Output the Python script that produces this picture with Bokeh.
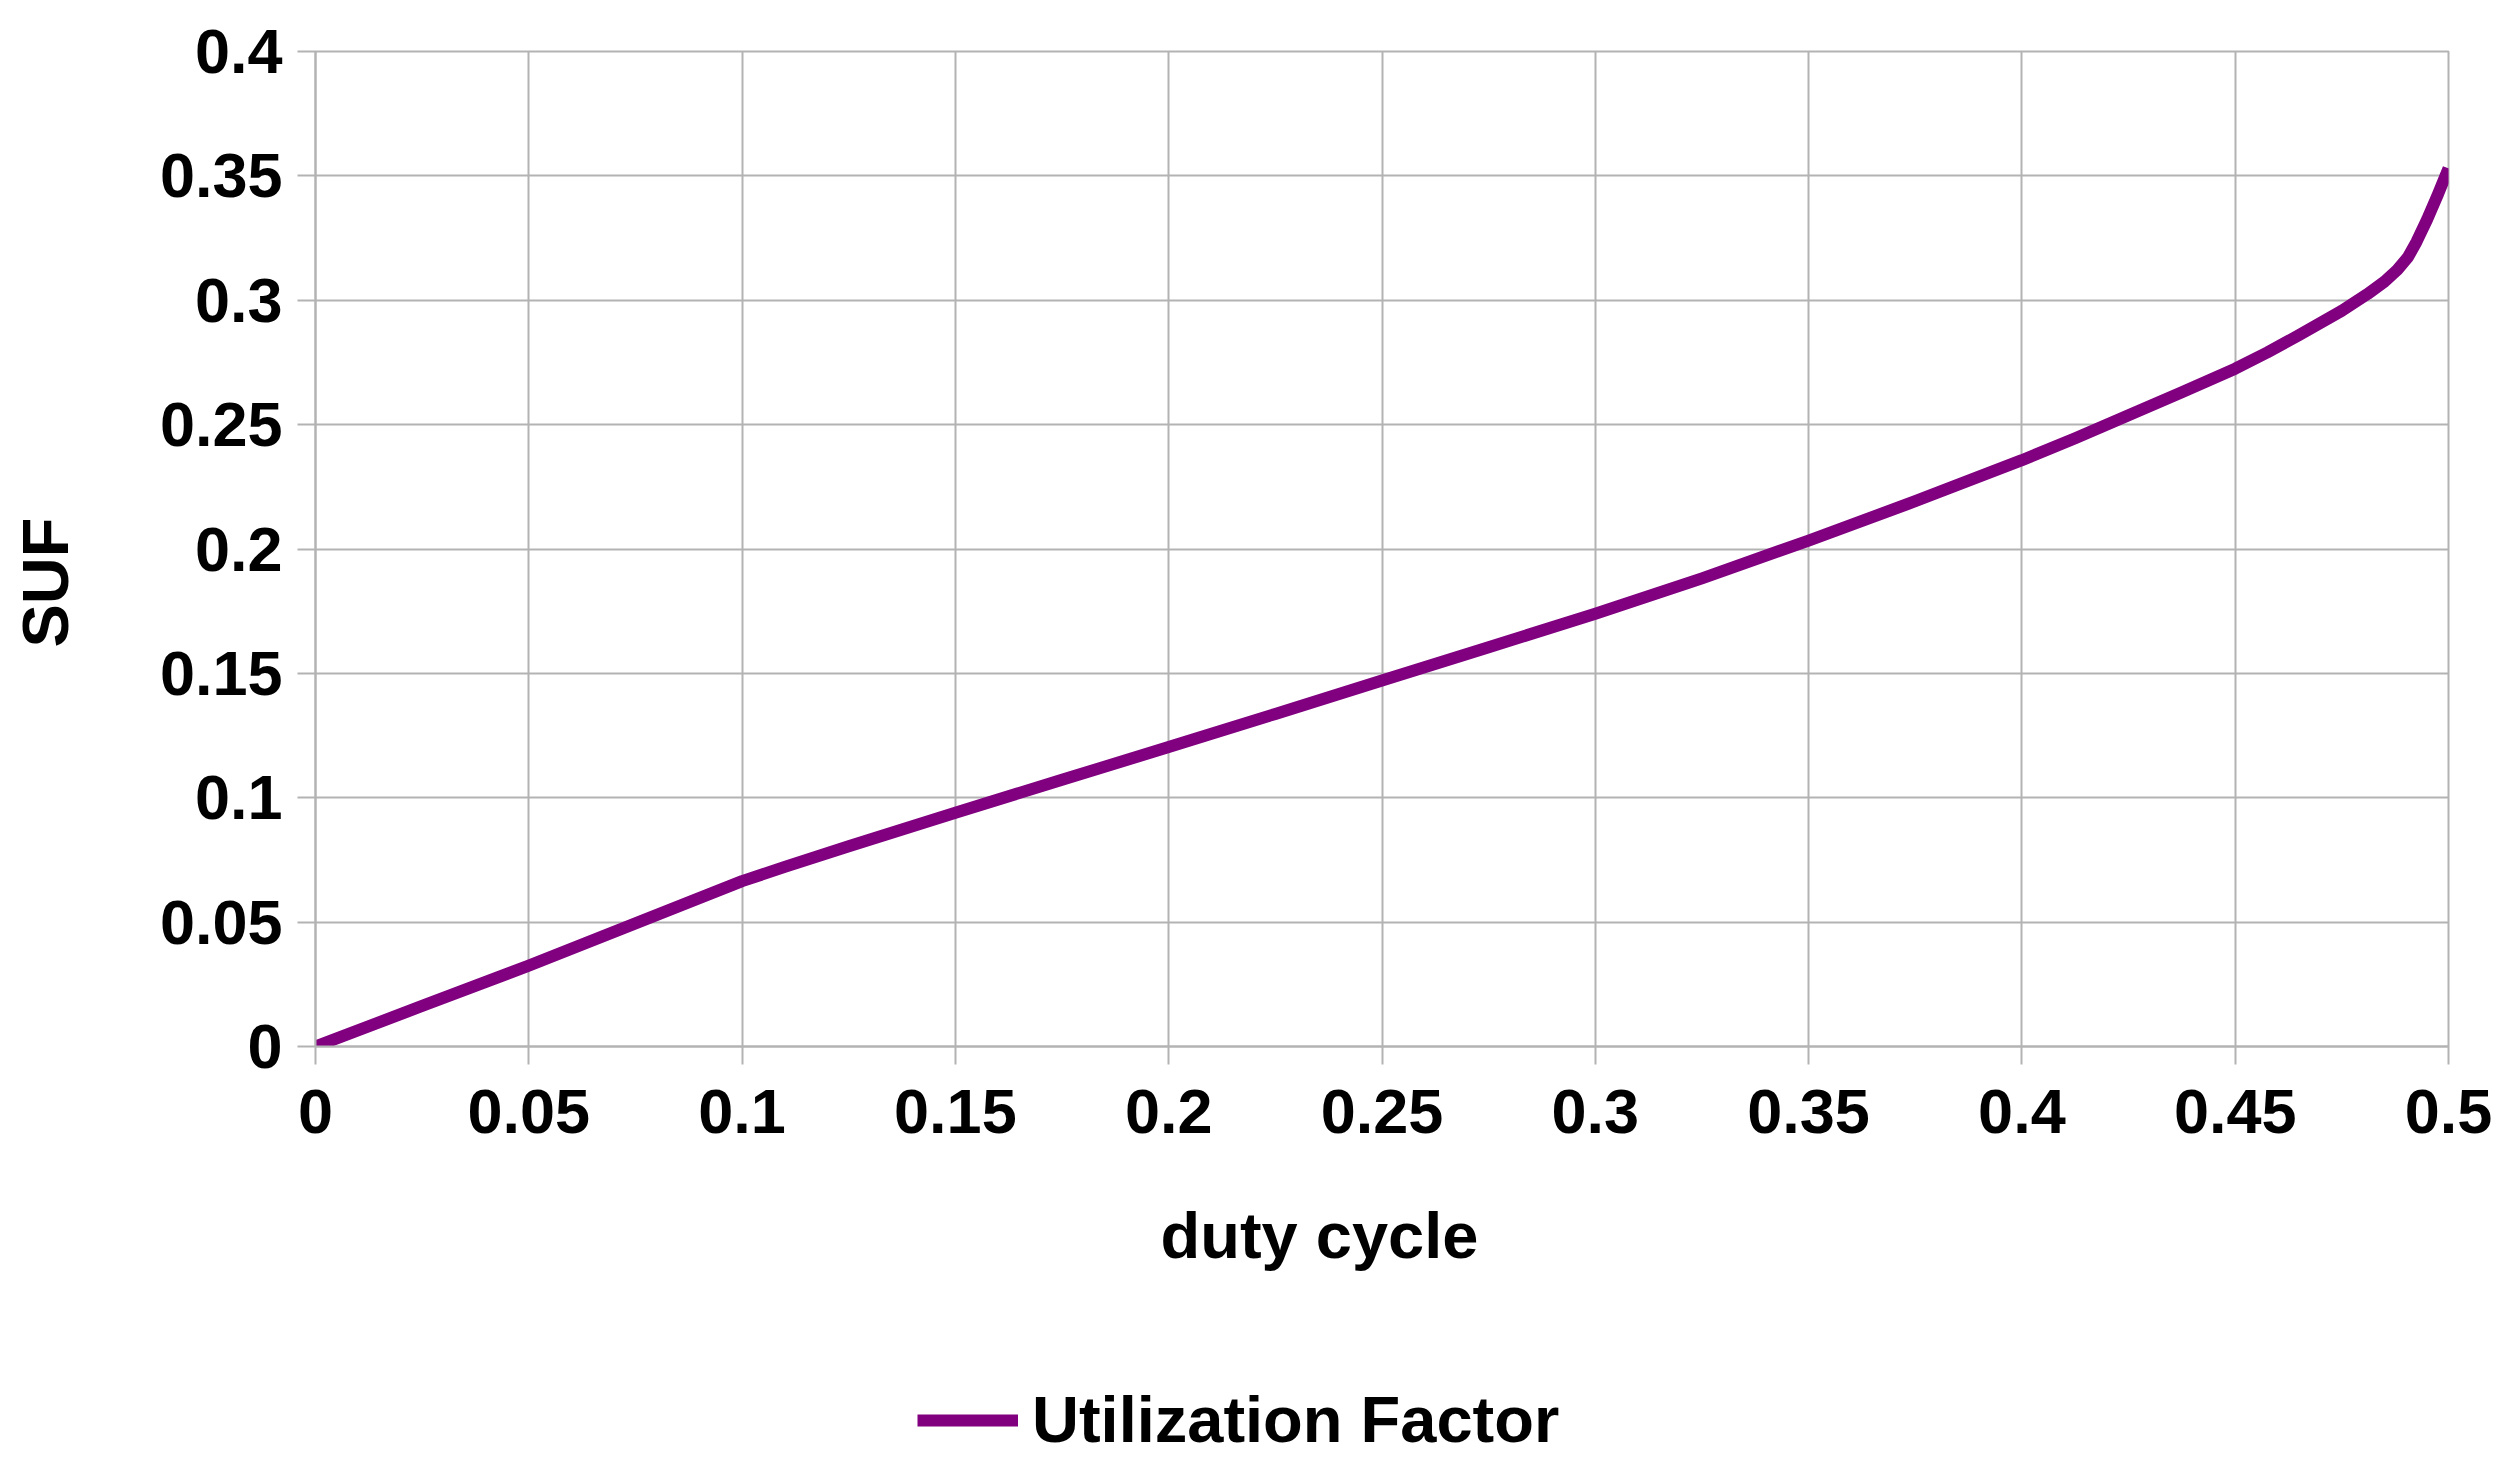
from bokeh.plotting import figure
from bokeh.layouts import column, row
from bokeh.models import Range1d, FixedTicker, Legend, LegendItem, Title, Label
from bokeh.embed import file_html
from bokeh.resources import INLINE

# ---- data ----
duty = [0.0, 0.025, 0.05, 0.075, 0.1, 0.11, 0.125, 0.15, 0.175, 0.2, 0.225, 0.25,
        0.275, 0.3, 0.325, 0.35, 0.375, 0.4, 0.4125, 0.425, 0.4375, 0.45, 0.4575,
        0.465, 0.475, 0.481, 0.485, 0.488, 0.4905, 0.4925, 0.495, 0.4975, 0.5]
suf = [0.0, 0.0163, 0.0325, 0.0495, 0.0665, 0.0722, 0.0805, 0.0940, 0.1072, 0.1204,
       0.1337, 0.1471, 0.1605, 0.1740, 0.1882, 0.2034, 0.2192, 0.2357, 0.2445,
       0.2538, 0.2630, 0.2725, 0.2790, 0.2860, 0.2958, 0.3025, 0.3075, 0.3122,
       0.3173, 0.3235, 0.3325, 0.3425, 0.3530]

x_ticks = [0, 0.05, 0.1, 0.15, 0.2, 0.25, 0.3, 0.35, 0.4, 0.45, 0.5]
x_tick_labels = ["0", "0.05", "0.1", "0.15", "0.2", "0.25", "0.3", "0.35", "0.4", "0.45", "0.5"]
y_ticks = [0, 0.05, 0.1, 0.15, 0.2, 0.25, 0.3, 0.35, 0.4]
y_tick_labels = ["0", "0.05", "0.1", "0.15", "0.2", "0.25", "0.3", "0.35", "0.4"]

series_name = "Utilization Factor"
x_title = "duty cycle"
y_title = "SUF"

FONT = "Liberation Sans"
GRID = "#b3b3b3"
LINE = "#800080"
LINE_W = 12

W = 2509
W_LEFT = 90
H_MAIN = 1370
H_LEG = 103


def blank_figure(width, height, **kw):
    f = figure(width=width, height=height, output_backend="svg", toolbar_location=None,
               x_axis_type=None, y_axis_type=None, outline_line_color=None,
               background_fill_color="white", border_fill_color="white", **kw)
    f.grid.visible = False
    return f


# ---- strip on the left holding the y-axis title ----
pleft = blank_figure(W_LEFT, H_MAIN, x_range=Range1d(0, 1), y_range=Range1d(0, 1),
                     min_border_left=0, min_border_right=0, min_border_top=0,
                     min_border_bottom=0)
# (the strip's frame is aligned with the chart frame: y is measured from its bottom)
pleft.add_layout(Label(x=45, y=464, x_units="screen", y_units="screen",
                       text=y_title, angle=90, angle_units="deg",
                       text_align="center", text_baseline="middle",
                       text_font=FONT, text_font_style="bold",
                       text_font_size="65px", text_color="black"))

# ---- main chart ----
p = figure(width=W - W_LEFT, height=H_MAIN, output_backend="svg", toolbar_location=None,
           x_range=Range1d(0, 0.5), y_range=Range1d(0, 0.4),
           min_border_left=315 - W_LEFT, min_border_right=61, min_border_top=51,
           min_border_bottom=324, background_fill_color="white",
           border_fill_color="white")
p.outline_line_color = GRID
p.outline_line_width = 2

p.line(duty, suf, line_color=LINE, line_width=LINE_W, line_join="round")

for ax, ticks, labels in ((p.xaxis[0], x_ticks, x_tick_labels), (p.yaxis[0], y_ticks, y_tick_labels)):
    ax.ticker = FixedTicker(ticks=ticks)
    ax.major_label_overrides = {t: l for t, l in zip(ticks, labels)}
    ax.axis_line_color = GRID
    ax.axis_line_width = 2
    ax.major_tick_line_color = GRID
    ax.major_tick_line_width = 2
    ax.major_tick_in = 0
    ax.major_tick_out = 18
    ax.minor_tick_line_color = None
    ax.major_label_text_font = FONT
    ax.major_label_text_font_style = "bold"
    ax.major_label_text_font_size = "63px"
    ax.major_label_text_color = "black"

p.xaxis[0].major_label_standoff = 25
p.yaxis[0].major_label_standoff = 15

# x-axis title, placed a little left of centre as in the reference
x_title_box = Title(text=x_title, align="left", offset=845, vertical_align="top",
                    standoff=126, text_font=FONT, text_font_style="bold",
                    text_font_size="65px", text_color="black")
p.add_layout(x_title_box, "below")

for g in (p.xgrid[0], p.ygrid[0]):
    g.grid_line_color = GRID
    g.grid_line_width = 2
p.xgrid[0].ticker = FixedTicker(ticks=x_ticks)
p.ygrid[0].ticker = FixedTicker(ticks=y_ticks)

# ---- legend strip below the chart (its series is kept outside the strip's view) ----
pl = blank_figure(W, H_LEG, x_range=Range1d(0, 0.5), y_range=Range1d(10, 11),
                  min_border_left=315, min_border_right=61, min_border_top=0,
                  min_border_bottom=0)
legend_line = pl.line(duty, suf, line_color=LINE, line_width=LINE_W)

legend = Legend(items=[LegendItem(label=series_name, renderers=[legend_line])],
                location=(602, 16), orientation="horizontal",
                glyph_width=101, glyph_height=40, label_standoff=14,
                padding=0, margin=0, spacing=0,
                border_line_color=None, background_fill_alpha=0,
                label_text_font=FONT, label_text_font_style="bold",
                label_text_font_size="65px", label_text_color="black")
pl.add_layout(legend)

layout = column(row(pleft, p, spacing=0), pl, spacing=0)
open("out.html", "w").write(file_html(layout, INLINE))
